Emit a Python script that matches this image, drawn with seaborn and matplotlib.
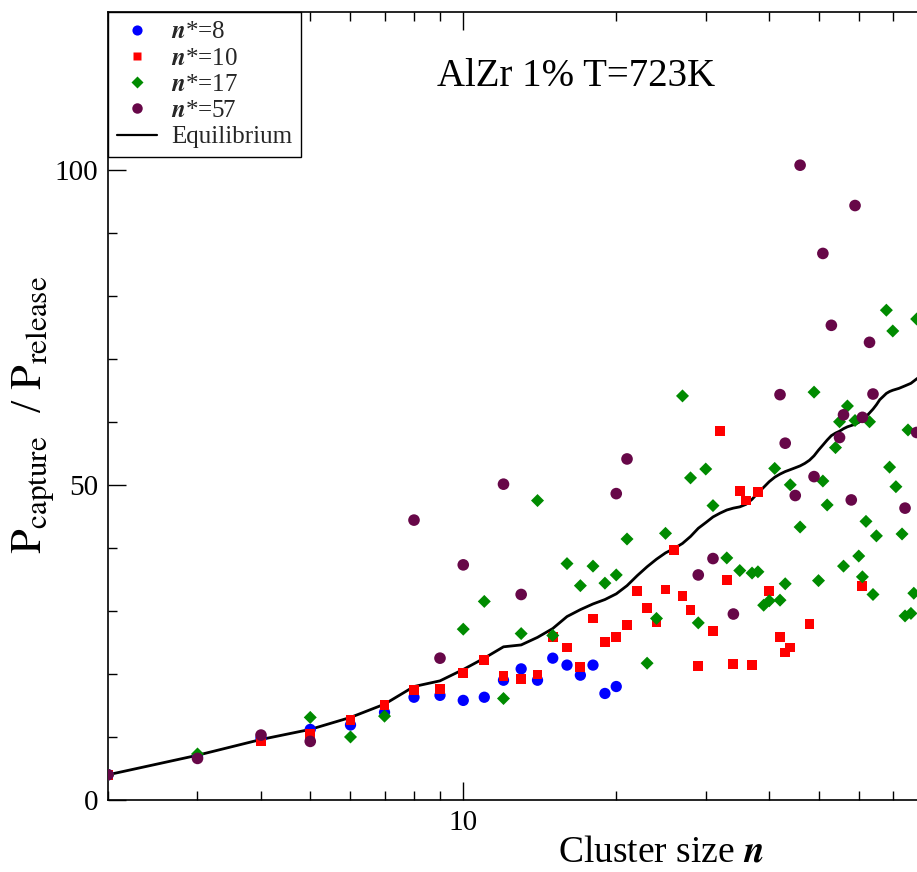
import numpy as np
import pandas as pd
import matplotlib
matplotlib.use("Agg")
import matplotlib.pyplot as plt
import seaborn as sns
from matplotlib.ticker import FixedLocator, NullFormatter, FixedFormatter
from matplotlib.lines import Line2D

# ---------------- data ----------------
n_blue = [2, 3, 4, 5, 6, 7, 8, 9, 10, 11, 12, 13, 14, 15, 16, 17, 18, 19, 20]
v_blue = [4.0, 6.9, 9.8, 11.2, 11.9, 13.9, 16.3, 16.6, 15.8, 16.3, 19.0, 20.8, 19.0,
          22.5, 21.4, 19.8, 21.4, 16.9, 18.0]

n_red = [2, 3, 4, 5, 6, 7, 8, 9, 10, 11, 12, 13, 14, 15, 16, 17, 18, 19, 20, 21, 22,
         23, 24, 25, 26, 27, 28, 29, 31, 32, 33, 34, 35, 36, 37, 38, 40, 42, 43, 44, 48, 61]
v_red = [4.0, 6.9, 9.4, 10.5, 12.7, 15.1, 17.4, 17.6, 20.1, 22.2, 19.7, 19.2, 19.9,
         25.8, 24.2, 21.1, 28.8, 25.0, 25.9, 27.7, 33.1, 30.5, 28.2, 33.4, 39.7, 32.3,
         30.2, 21.3, 26.8, 58.5, 34.9, 21.6, 49.0, 47.5, 21.4, 48.9, 33.2, 25.8, 23.4,
         24.2, 27.9, 34.0]

n_green = [2, 3, 5, 6, 7, 10, 11, 12, 13, 14, 15, 16, 17, 18, 19, 20, 21, 23, 24, 25,
           27, 28, 29, 30, 31, 33, 35, 37, 38, 39, 40, 41, 42, 43, 44, 46, 49, 50, 51,
           52, 54, 55, 56, 57, 59, 60, 61, 62, 63, 64, 65, 68, 69, 70, 71, 73, 74, 75,
           76, 77, 78]
v_green = [4.0, 7.3, 13.1, 10.0, 13.3, 27.1, 31.5, 16.1, 26.4, 47.5, 26.1, 37.5, 34.0,
           37.1, 34.4, 35.7, 41.4, 21.7, 28.8, 42.3, 64.1, 51.1, 28.1, 52.5, 46.7, 38.4,
           36.4, 36.0, 36.2, 30.9, 31.6, 52.6, 31.7, 34.3, 50.0, 43.3, 64.7, 34.8, 50.6,
           46.8, 55.9, 60.0, 37.1, 62.5, 60.2, 38.7, 35.4, 44.2, 60.0, 32.6, 41.9, 77.7,
           52.8, 74.4, 49.7, 42.2, 29.2, 58.7, 29.6, 32.8, 76.3]

n_purple = [2, 3, 4, 5, 8, 9, 10, 12, 13, 20, 21, 29, 31, 34, 42, 43, 45, 46, 49, 51,
            53, 55, 56, 58, 59, 61, 63, 64, 74, 78]
v_purple = [4.0, 6.6, 10.3, 9.3, 44.4, 22.5, 37.3, 50.1, 32.6, 48.6, 54.1, 35.7, 38.3,
            29.5, 64.3, 56.6, 48.3, 100.7, 51.3, 86.7, 75.3, 57.5, 61.1, 47.6, 94.3,
            60.7, 72.6, 64.4, 46.3, 58.3]

n_eq = [2, 3, 4, 5, 6, 7, 8, 9, 10, 11, 12, 13, 14, 15, 16, 17, 18, 19, 20, 21, 22, 23,
        24, 25, 26, 27, 28, 29, 30, 31, 32, 33, 34, 35, 36, 37, 38, 39, 40, 41, 42, 43,
        44, 45, 46, 47, 48, 49, 50, 51, 52, 53, 54, 55, 56, 57, 58, 59, 60, 61, 62, 63,
        64, 65, 66, 67, 68, 69, 70, 72, 74, 76, 78, 80]
v_eq = [4.0, 7.1, 9.6, 11.2, 13.1, 15.2, 18.0, 18.9, 20.7, 22.5, 24.3, 24.6, 25.8, 27.2,
        29.1, 30.2, 31.1, 31.8, 32.7, 34.0, 35.6, 37.0, 38.2, 39.2, 39.9, 40.7, 41.8,
        43.1, 44.0, 44.9, 45.5, 46.0, 46.3, 46.5, 46.9, 47.7, 48.7, 49.6, 50.5, 51.2,
        51.7, 52.1, 52.4, 52.7, 53.0, 53.4, 53.9, 54.6, 55.5, 56.3, 57.1, 57.8, 58.2,
        58.5, 58.9, 59.2, 59.4, 59.6, 59.9, 60.3, 60.8, 61.4, 62.0, 62.7, 63.5, 64.0,
        64.5, 64.8, 65.0, 65.3, 65.7, 66.1, 66.8, 67.4]

labels = [r"$\mathbfit{n}$*=8", r"$\mathbfit{n}$*=10", r"$\mathbfit{n}$*=17",
          r"$\mathbfit{n}$*=57"]
colors = ["#0000ff", "#ff0000", "#008b00", "#670748"]
x_major = [10, 100]
x_major_labels = ["10", ""]
y_major = [0, 50, 100]
y_major_labels = ["0", "50", "100"]

# ---------------- style ----------------
sns.set_theme(style="ticks")
plt.rcParams["font.family"] = ["Liberation Serif", "DejaVu Serif"]
plt.rcParams["mathtext.fontset"] = "stix"

W, H = 917, 872
fig = plt.figure(figsize=(W / 100, H / 100), dpi=100)
fig.patch.set_facecolor("white")
ax_left, ax_right, ax_top, ax_bottom = 108, 1214, 12, 800
ax = fig.add_axes([ax_left / W, (H - ax_bottom) / H, (ax_right - ax_left) / W,
                   (ax_bottom - ax_top) / H])
ax.set_facecolor("white")

series = [
    (n_blue, v_blue, "o", 66, labels[0], colors[0]),
    (n_red, v_red, "s", 50, labels[1], colors[1]),
    (n_green, v_green, "D", 44, labels[2], colors[2]),
    (n_purple, v_purple, "o", 70, labels[3], colors[3]),
]

line_df = pd.DataFrame({"n": n_eq, "v": v_eq})
sns.lineplot(data=line_df, x="n", y="v", ax=ax, color="black", lw=2.0,
             estimator=None, sort=False, zorder=2, legend=False)

for i, (nn, vv, mk, s, lab, col) in enumerate(series):
    df = pd.DataFrame({"n": nn, "v": vv})
    sns.scatterplot(data=df, x="n", y="v", ax=ax, marker=mk, s=s, color=col,
                    edgecolor="none", linewidth=0, zorder=3 + i, legend=False)

ax.set_xscale("log")
ax.set_xlim(2, 300)
ax.set_ylim(0, 125)

ax.xaxis.set_major_locator(FixedLocator(x_major))
ax.xaxis.set_major_formatter(FixedFormatter(x_major_labels))
minors = [k * 10 ** e for e in range(0, 3) for k in range(2, 10)]
ax.xaxis.set_minor_locator(FixedLocator(minors))
ax.xaxis.set_minor_formatter(NullFormatter())
ax.yaxis.set_major_locator(FixedLocator(y_major))
ax.yaxis.set_major_formatter(FixedFormatter(y_major_labels))
ax.yaxis.set_minor_locator(FixedLocator([10, 20, 30, 40, 60, 70, 80, 90, 110, 120]))

ax.tick_params(which="both", direction="in", top=True, right=True, width=1.0,
               color="black", labelsize=21, labelcolor="black")
ax.tick_params(which="major", length=13, pad=7)
ax.tick_params(which="minor", length=6.5)
for sp in ax.spines.values():
    sp.set_linewidth(1.2)
    sp.set_color("black")

ax.set_xlabel(r"Cluster size $\mathbfit{n}$", fontsize=27, color="black")
ax.set_ylabel(r"$\mathrm{P}_{\mathrm{capture}}$  / $\mathrm{P}_{\mathrm{release}}$",
              fontsize=32, color="black")
ax.yaxis.set_label_coords(-(108 - 34) / (ax_right - ax_left), (800 - 415) / (800 - 12))
ax.xaxis.set_label_coords((661 - ax_left) / (ax_right - ax_left), -(852 - 800) / (800 - 12))
ax.xaxis.label.set_va("center")
ax.yaxis.label.set_va("center")

fig.text(576 / W, 1 - 76 / H, "AlZr 1% T=723K", ha="center", va="center",
         fontsize=28, color="black")

handles = [Line2D([], [], ls="none", marker=mk, markersize=np.sqrt(s) * 0.9,
                  markerfacecolor=col, markeredgecolor="none")
           for (_, _, mk, s, _, col) in series]
handles.append(Line2D([], [], color="black", lw=1.6))
leg_labels = labels + ["Equilibrium"]
leg = ax.legend(handles, leg_labels, loc="upper left", bbox_to_anchor=(0, 1),
                borderaxespad=0, frameon=True, fancybox=False, framealpha=1,
                edgecolor="black", fontsize=18, handlelength=1.6, handletextpad=0.55,
                labelspacing=0.15, borderpad=0.36)
leg.get_frame().set_linewidth(1.0)
leg.set_zorder(10)

fig.savefig("out.png", dpi=100, facecolor="white")
